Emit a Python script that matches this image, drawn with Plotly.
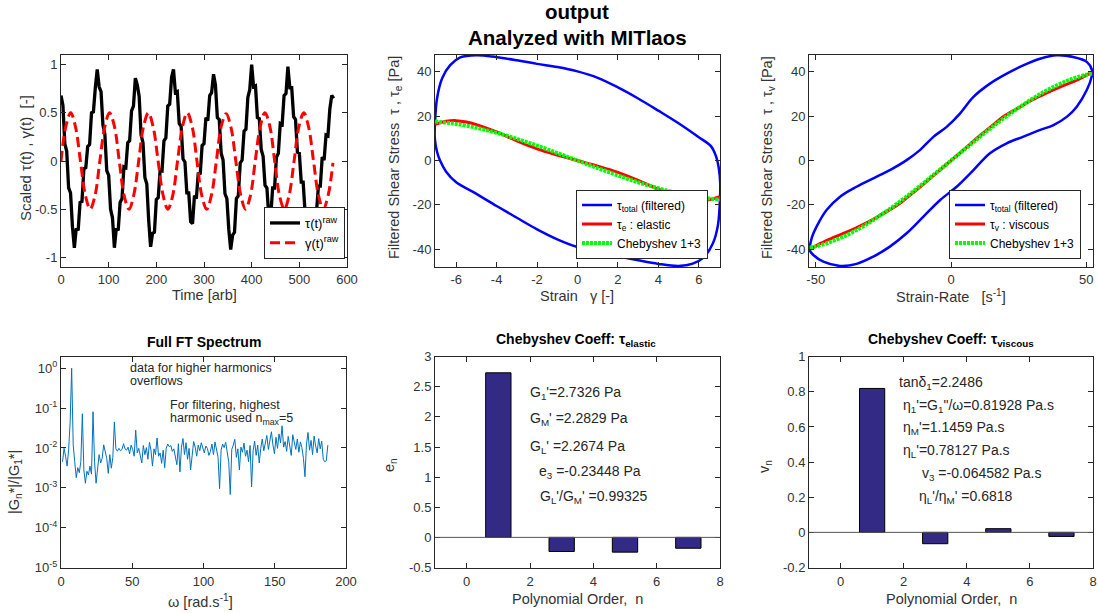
import plotly.graph_objects as go

W, H = 1098, 613
FONT = "Liberation Sans, Arial, Helvetica, sans-serif"
AX = "#262626"

# ---------------- raw signals (time in arb units) ----------------
tau_raw_dt = 4.0
tau_raw = [0.68, 0.58, 0.18, 0.10, -0.28, -0.33, -0.68, -0.90, -0.70, -0.72, -0.43, -0.42, -0.08, -0.07, 0.15, 0.17, 0.50, 0.51, 0.76, 0.95,
           0.77, 0.72, 0.37, 0.28, -0.10, -0.15, -0.50, -0.59, -0.90, -0.70, -0.72, -0.43, -0.39, -0.06, -0.07, 0.19, 0.21, 0.52, 0.57, 0.86,
           0.79, 0.67, 0.27, 0.19, -0.17, -0.24, -0.62, -0.89, -0.75, -0.74, -0.40, -0.38, -0.09, -0.10, 0.21, 0.24, 0.57, 0.59, 0.87, 0.95,
           0.71, 0.72, 0.39, 0.36, 0.02, -0.01, -0.33, -0.33, -0.63, -0.65, -0.36, -0.39, -0.12, -0.14, 0.16, 0.18, 0.45, 0.42, 0.68, 0.71,
           0.90, 0.79, 0.45, 0.43, 0.08, 0.01, -0.34, -0.39, -0.71, -0.92, -0.77, -0.74, -0.39, -0.36, -0.02, 0.01, 0.31, 0.33, 0.66, 0.74,
           1.00, 0.77, 0.78, 0.45, 0.44, 0.12, 0.05, -0.25, -0.28, -0.58, -0.58, -0.28, -0.28, 0.04, 0.08, 0.39, 0.38, 0.68, 0.70, 0.98,
           0.76, 0.76, 0.46, 0.43, 0.09, 0.08, -0.22, -0.22, -0.53, -0.59, -0.90, -0.77, -0.77, -0.49, -0.53, -0.26, -0.26, 0.04, 0.01, 0.27,
           0.26, 0.54, 0.68, 0.65]

gamma_raw_dt = 10.1875
gamma_raw = [0.0, 0.36, 0.50, 0.35, 0.0, -0.35, -0.50, -0.36,
             0.0, 0.35, 0.50, 0.36, 0.0, -0.36, -0.50, -0.35,
             0.0, 0.36, 0.50, 0.35, 0.0, -0.35, -0.50, -0.36,
             0.0, 0.35, 0.50, 0.36, 0.0, -0.36, -0.50, -0.35,
             0.0, 0.36, 0.49, 0.35, 0.0, -0.35, -0.50, -0.36,
             0.0, 0.35, 0.50, 0.36, 0.0, -0.36, -0.50, -0.35,
             0.0, 0.36, 0.50, 0.35, 0.0, -0.35, -0.50, -0.36, -0.02]

# ---------------- elastic Lissajous (stress vs strain) ----------------
loop_strain = [7.05, 7.06, 7.0, 6.85, 6.6, 6.0, 5.0, 4.0, 3.0, 2.0, 1.0, 0.0, -1.0, -2.0, -3.0, -4.0, -5.0, -5.8, -6.3, -6.7, -6.95,
               -7.05, -7.06, -6.95, -6.8, -6.5, -6.0, -5.0, -4.0, -3.0, -2.0, -1.0, 0.0, 1.0, 2.0, 3.0, 4.0, 5.0, 5.7, 6.2, 6.7, 6.95, 7.05]
loop_stress_s = [-17, -10, -4, 2, 6.5, 10.5, 16.8, 22.5, 28, 33, 37.3, 40.2, 42.2, 43.6, 45.2, 46.6, 47.5, 46.5, 43, 37, 28,
                 17, 10, 4, 0, -5, -9.8, -15, -20.5, -25.8, -31, -35.5, -39, -41.2, -43.2, -45, -46.6, -47.5, -46.5, -44, -37.3, -29, -17]
elastic_strain = [-7.05, -6.5, -6.0, -5.5, -5.0, -4.0, -3.0, -2.0, -1.0, 0.0, 1.0, 2.0, 3.0, 4.0, 5.0, 5.5, 6.0, 6.5, 7.05]
elastic_stress = [16.3, 17.7, 18.0, 17.4, 16.2, 12.9, 8.9, 5.3, 2.5, 0.0, -2.5, -5.3, -8.9, -12.9, -16.2, -17.4, -18.0, -17.7, -16.3]
cheb_e_strain = [-7.05, -6.5, -6.0, -5.0, -4.0, -3.0, -2.0, -1.0, 0.0, 1.0, 2.0, 3.0, 4.0, 5.0, 6.0, 6.5, 7.05]
cheb_e_stress = [17.6, 17.1, 16.5, 14.8, 12.5, 9.8, 6.7, 3.4, 0.0, -3.4, -6.7, -9.8, -12.5, -14.8, -16.5, -17.1, -17.6]

# ---------------- viscous Lissajous (stress vs strain-rate) ----------------
loop_rate = [-52.2, -51.5, -49.7, -46.0, -41.0, -34.9, -28.7, -22.6, -16.4, -11.5, -6.5, -1.6, 3.3, 8.3, 14.4, 20.6, 26.7, 32.9, 39.1, 45.2, 50.2,
             52.2, 52.0, 50.2, 46.5, 42.9, 37.9, 33.0, 26.8, 20.6, 14.4, 8.3, 2.1, -4.0, -10.2, -16.4, -22.6, -28.7, -34.9, -41.0, -47.2, -50.9, -52.2]
loop_stress_r = [-40.5, -35, -29.8, -22.3, -16.3, -11.8, -8.0, -4.3, 0.2, 4.7, 10.7, 15.2, 21.2, 28.7, 34.7, 39.2, 42.9, 45.9, 47.5, 46.7, 44.5,
                 40.5, 37.8, 31.8, 24.3, 19.8, 16.0, 13.8, 10.8, 7.8, 3.3, -4.3, -11.8, -17.8, -25.3, -32.8, -38.8, -43.3, -46.6, -47.5, -45.6, -42.6, -40.5]
viscous_rate = [-52.2, -48, -44, -40, -35, -30, -25, -20, -15, -10, -5, 0, 5, 10, 15, 20, 25, 30, 35, 40, 44, 48, 52.2]
viscous_stress = [-40, -37.2, -35, -33, -30.3, -27.3, -23.8, -20.3, -15.5, -10.5, -5.2, 0, 5.2, 10.5, 15.5, 20.3, 23.8, 27.3, 30.3, 33, 35, 37.2, 40]
cheb_v_rate = [-52.2, -50, -45, -40, -35, -30, -25, -20, -15, -10, -5, 0, 5, 10, 15, 20, 25, 30, 35, 40, 45, 50, 52.2]
cheb_v_stress = [-39.3, -38.7, -36.9, -34.4, -31.4, -27.8, -23.8, -19.5, -14.9, -10.0, -5.0, 0, 5.0, 10.0, 14.9, 19.5, 23.8, 27.8, 31.4, 34.4, 36.9, 38.7, 39.3]

# ---------------- normalised FT spectrum ----------------
omega_step = 1.07
ft_spectrum = [0.0045, 0.0098, 0.0062, 0.0035, 0.0088, 0.045, 1.0, 0.012, 0.0045, 0.0018,
               0.0032, 0.0024, 0.0045, 0.072, 0.0028, 0.0013, 0.0026, 0.0021, 0.0035, 0.0022,
               0.081, 0.0046, 0.0013, 0.0032, 0.0068, 0.0042, 0.0055, 0.012, 0.0078, 0.0055,
               0.0023, 0.0068, 0.0031, 0.0058, 0.045, 0.0095, 0.0083, 0.0098, 0.0085, 0.0092,
               0.0128, 0.0095, 0.0088, 0.0105, 0.0071, 0.0118, 0.0092, 0.0062, 0.028, 0.0075,
               0.0098, 0.0058, 0.0042, 0.0115, 0.0068, 0.0102, 0.0052, 0.0138, 0.0088, 0.0035,
               0.0095, 0.0068, 0.0178, 0.0062, 0.0075, 0.0041, 0.0088, 0.0032, 0.0098, 0.0125,
               0.0108, 0.0115, 0.0082, 0.0095, 0.0062, 0.0038, 0.0128, 0.0025, 0.0105, 0.0172,
               0.0068, 0.0135, 0.0052, 0.0098, 0.0028, 0.0082, 0.0145, 0.0105, 0.0062, 0.0118,
               0.0085, 0.0135, 0.0092, 0.0075, 0.0112, 0.0098, 0.0065, 0.0082, 0.0125, 0.0068,
               0.0142, 0.0095, 0.0058, 0.00095, 0.0088, 0.0125, 0.0102, 0.0138, 0.0072, 0.0045,
               0.00068, 0.0092, 0.0118, 0.0165, 0.0058, 0.0095, 0.0028, 0.0105, 0.0078, 0.0132,
               0.0062, 0.0088, 0.0045, 0.0115, 0.00105, 0.0085, 0.0148, 0.0065, 0.0118, 0.0042,
               0.0098, 0.0168, 0.0085, 0.0125, 0.0205, 0.0092, 0.0158, 0.0255, 0.0118, 0.0072,
               0.0185, 0.0098, 0.0225, 0.0135, 0.036, 0.0105, 0.0145, 0.0082, 0.0195, 0.0118,
               0.0065, 0.0215, 0.0128, 0.0092, 0.0168, 0.0078, 0.0142, 0.0102, 0.0055, 0.0019,
               0.0125, 0.0245, 0.0088, 0.0155, 0.0068, 0.0198, 0.0112, 0.0075, 0.0172, 0.0095,
               0.0148, 0.0052, 0.0045, 0.0048, 0.0118]

# ---------------- Chebyshev coefficients ----------------
cheb_order = [1, 3, 5, 7]
e_coeffs = [2.7326, -0.23448, -0.245, -0.18]
v_coeffs = [0.81928, -0.064582, 0.021, -0.023]

BAR_COLOR = "rgb(51,42,134)"


def pxx(X):
    return X / W


def pxy(Y):
    return 1 - Y / H


def axis(x0, x1, rng, vals, text, anchor, **kw):
    d = dict(domain=[pxx(x0), pxx(x1)], range=rng, tickvals=vals, ticktext=text, anchor=anchor,
             showline=True, linecolor=AX, linewidth=1, mirror="ticks", ticks="inside",
             ticklen=5, tickcolor=AX, tickwidth=1, showgrid=False, zeroline=False,
             tickfont=dict(family=FONT, size=13, color="#333333"), fixedrange=True)
    d.update(kw)
    return d


def yaxis(y0, y1, rng, vals, text, anchor, **kw):
    d = axis(0, 0, rng, vals, text, anchor, **kw)
    d["domain"] = [pxy(y1), pxy(y0)]
    return d


def fmt(v):
    return "%g" % v


fig = go.Figure()

# Panel 1: raw time signals
fig.add_trace(go.Scatter(x0=0, dx=tau_raw_dt, y=tau_raw, mode="lines", name="τ(t)<sup>raw</sup>",
                         line=dict(color="black", width=3.3), xaxis="x", yaxis="y", legend="legend"))
fig.add_trace(go.Scatter(x0=0, dx=gamma_raw_dt, y=gamma_raw, mode="lines", name="γ(t)<sup>raw</sup>",
                         line=dict(color="red", width=3, dash="10px,5px", shape="spline"),
                         xaxis="x", yaxis="y", legend="legend"))

# Panel 2: elastic projection
fig.add_trace(go.Scatter(x=loop_strain, y=loop_stress_s, mode="lines", name="τ<sub>total</sub> (filtered)",
                         line=dict(color="blue", width=2.5, shape="spline"), xaxis="x2", yaxis="y2", legend="legend2"))
fig.add_trace(go.Scatter(x=elastic_strain, y=elastic_stress, mode="lines", name="τ<sub>e</sub> : elastic",
                         line=dict(color="red", width=3, shape="spline"), xaxis="x2", yaxis="y2", legend="legend2"))
fig.add_trace(go.Scatter(x=cheb_e_strain, y=cheb_e_stress, mode="lines", name="Chebyshev 1+3",
                         line=dict(color="#00FF00", width=4, dash="3px,1px", shape="spline"),
                         xaxis="x2", yaxis="y2", legend="legend2"))

# Panel 3: viscous projection
fig.add_trace(go.Scatter(x=loop_rate, y=loop_stress_r, mode="lines", name="τ<sub>total</sub> (filtered)",
                         line=dict(color="blue", width=2.5, shape="spline"), xaxis="x3", yaxis="y3", legend="legend3"))
fig.add_trace(go.Scatter(x=viscous_rate, y=viscous_stress, mode="lines", name="τ<sub>v</sub> : viscous",
                         line=dict(color="red", width=3, shape="spline"), xaxis="x3", yaxis="y3", legend="legend3"))
fig.add_trace(go.Scatter(x=cheb_v_rate, y=cheb_v_stress, mode="lines", name="Chebyshev 1+3",
                         line=dict(color="#00FF00", width=4, dash="3px,1px", shape="spline"),
                         xaxis="x3", yaxis="y3", legend="legend3"))

# Panel 4: FT spectrum
fig.add_trace(go.Scatter(x0=omega_step, dx=omega_step, y=ft_spectrum, mode="lines", showlegend=False,
                         line=dict(color="#0072BD", width=1), xaxis="x4", yaxis="y4"))

# Panels 5/6: Chebyshev coefficients
fig.add_trace(go.Bar(x=cheb_order, y=e_coeffs, width=0.8, showlegend=False,
                     marker=dict(color=BAR_COLOR, line=dict(color="black", width=1)), xaxis="x5", yaxis="y5"))
fig.add_trace(go.Bar(x=cheb_order, y=v_coeffs, width=0.8, showlegend=False,
                     marker=dict(color=BAR_COLOR, line=dict(color="black", width=1)), xaxis="x6", yaxis="y6"))

TOP = (55, 267)
BOT = (356.7, 567.5)

p1x = [0, 100, 200, 300, 400, 500, 600]
p1y = [-1, -0.5, 0, 0.5, 1]
p2x = [-6, -4, -2, 0, 2, 4, 6]
stress_t = [-40, -20, 0, 20, 40]
p3x = [-50, 0, 50]
p4x = [0, 50, 100, 150, 200]
p4y = [1e-5, 1e-4, 1e-3, 1e-2, 1e-1, 1]
p4yt = ["10<sup>-5</sup>", "10<sup>-4</sup>", "10<sup>-3</sup>", "10<sup>-2</sup>", "10<sup>-1</sup>", "10<sup>0</sup>"]
order_t = [0, 2, 4, 6, 8]
p5y = [-0.5, 0, 0.5, 1, 1.5, 2, 2.5, 3]
p6y = [-0.2, 0, 0.2, 0.4, 0.6, 0.8, 1]

layout = dict(
    width=W, height=H, margin=dict(l=0, r=0, t=0, b=0, autoexpand=False),
    paper_bgcolor="white", plot_bgcolor="white",
    font=dict(family=FONT, color=AX),
    barmode="overlay",
    xaxis=axis(61, 347, [0, 600], p1x, [fmt(v) for v in p1x], "y"),
    yaxis=yaxis(*TOP, [-1.1, 1.1], p1y, [fmt(v) for v in p1y], "x"),
    xaxis2=axis(435, 720, [-7.05, 7.05], p2x, [fmt(v) for v in p2x], "y2"),
    yaxis2=yaxis(*TOP, [-48, 47.6], stress_t, [fmt(v) for v in stress_t], "x2"),
    xaxis3=axis(809, 1093, [-52.5, 52.5], p3x, [fmt(v) for v in p3x], "y3"),
    yaxis3=yaxis(*TOP, [-48, 47.6], stress_t, [fmt(v) for v in stress_t], "x3"),
    xaxis4=axis(61, 346, [0, 200], p4x, [fmt(v) for v in p4x], "y4", ticklabelstandoff=2),
    yaxis4=yaxis(*BOT, [-5, 0.29], p4y, p4yt, "x4", type="log"),
    xaxis5=axis(435, 720, [-1, 8], order_t, [fmt(v) for v in order_t], "y5", ticklabelstandoff=2),
    yaxis5=yaxis(*BOT, [-0.5, 3], p5y, [fmt(v) for v in p5y], "x5"),
    xaxis6=axis(809, 1093, [-1, 8], order_t, [fmt(v) for v in order_t], "y6", ticklabelstandoff=2),
    yaxis6=yaxis(*BOT, [-0.2, 1], p6y, [fmt(v) for v in p6y], "x6"),
)

leg_common = dict(xanchor="right", yanchor="middle", bgcolor="white", bordercolor=AX, borderwidth=1,
                  tracegroupgap=0)
layout["legend"] = dict(x=pxx(345), y=pxy(233), font=dict(family=FONT, size=13, color="black"), **leg_common)
layout["legend2"] = dict(x=pxx(708), y=pxy(224), font=dict(family=FONT, size=12, color="black"), **leg_common)
layout["legend3"] = dict(x=pxx(1081), y=pxy(224), font=dict(family=FONT, size=12, color="black"), **leg_common)

layout["shapes"] = [
    dict(type="line", xref="x5 domain", x0=0, x1=1, yref="y5", y0=0, y1=0, line=dict(color="#555555", width=1)),
    dict(type="line", xref="x6 domain", x0=0, x1=1, yref="y6", y0=0, y1=0, line=dict(color="#555555", width=1)),
]

ann = []


def note(text, X, Y, size=14.5, angle=0, xanchor="center", color="#333333"):
    ann.append(dict(text=text, x=pxx(X), y=pxy(Y), xref="paper", yref="paper", showarrow=False,
                    textangle=angle, xanchor=xanchor, yanchor="middle",
                    font=dict(family=FONT, size=size, color=color)))


# figure titles
note("<b>output</b>", 577, 12, size=20.5, color="black")
note("<b>Analyzed with MITlaos</b>", 577, 38, size=20.5, color="black")
note("<b>Full FT Spectrum</b>", 204, 342, size=14, color="black")
note("<b>Chebyshev Coeff: τ<sub>elastic</sub></b>", 576, 340, size=14, color="black")
note("<b>Chebyshev Coeff: τ<sub>viscous</sub></b>", 951, 340, size=14, color="black")

# axis titles
note("Scaled τ(t) , γ(t)  [-]", 25, 158, size=15, angle=-90)
note("Time [arb]", 204, 295)
note("Filtered Shear Stress  τ , τ<sub>e</sub> [Pa]", 395, 158, angle=-90)
note("Strain   γ [-]", 577, 296)
note("Filtered Shear Stress  τ , τ<sub>v</sub> [Pa]", 768, 158, angle=-90)
note("Strain-Rate   [s<sup>-1</sup>]", 951, 296)
note("|G<sub>n</sub>*|/|G<sub>1</sub>*|", 15, 482, angle=-90)
note("ω [rad.s<sup>-1</sup>]", 200, 601)
note("e<sub>n</sub>", 390, 465, angle=-90)
note("Polynomial Order,  n", 577, 599)
note("v<sub>n</sub>", 765, 467, angle=-90)
note("Polynomial Order,  n", 951, 599)

# spectrum remarks
note("data for higher harmonics", 128, 368, size=12.5, xanchor="left", color="#262626")
note("overflows", 128, 381, size=12.5, xanchor="left", color="#262626")
note("For filtering, highest", 168, 405, size=12.5, xanchor="left", color="#262626")
note("harmonic used n<sub>max</sub>=5", 168, 419, size=12.5, xanchor="left", color="#262626")

# elastic summary
TS = 14
note("G<sub>1</sub>'=2.7326 Pa", 528, 393, size=TS, xanchor="left", color="#262626")
note("G<sub>M</sub>' =2.2829 Pa", 528, 419, size=TS, xanchor="left", color="#262626")
note("G<sub>L</sub>' =2.2674 Pa", 528, 447, size=TS, xanchor="left", color="#262626")
note("e<sub>3</sub> =-0.23448 Pa", 537, 472, size=TS, xanchor="left", color="#262626")
note("G<sub>L</sub>'/G<sub>M</sub>' =0.99325", 538, 497, size=TS, xanchor="left", color="#262626")

# viscous summary
note("tanδ<sub>1</sub>=2.2486", 897, 383, size=TS, xanchor="left", color="#262626")
note("η<sub>1</sub>'=G<sub>1</sub>\"/ω=0.81928 Pa.s", 901, 406, size=TS, xanchor="left", color="#262626")
note("η<sub>M</sub>'=1.1459 Pa.s", 901, 428, size=TS, xanchor="left", color="#262626")
note("η<sub>L</sub>'=0.78127 Pa.s", 901, 451, size=TS, xanchor="left", color="#262626")
note("v<sub>3</sub> =-0.064582 Pa.s", 920, 474, size=TS, xanchor="left", color="#262626")
note("η<sub>L</sub>'/η<sub>M</sub>' =0.6818", 917, 497, size=TS, xanchor="left", color="#262626")

layout["annotations"] = ann

fig.update_layout(layout)
fig.write_html("out.html")
